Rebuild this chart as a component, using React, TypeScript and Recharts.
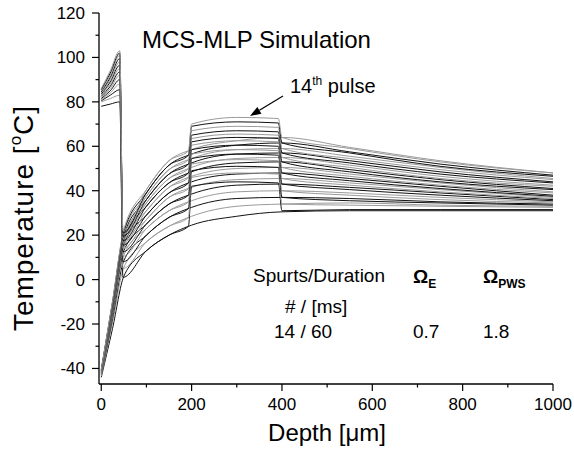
import React from 'react'
import { Line, LineChart, XAxis, YAxis } from 'recharts'

const FONT = '"Liberation Sans", Arial, Helvetica, sans-serif'

const X_TICKS = [0, 100, 200, 300, 400, 500, 600, 700, 800, 900, 1000]
const Y_TICKS = [-40, -30, -20, -10, 0, 10, 20, 30, 40, 50, 60, 70, 80, 90, 100, 110, 120]

// depth samples [um]
const LASER_DEPTH = [0, 20, 41, 48, 100, 150, 193, 200, 300, 392, 400, 550, 750, 1000]
const COOL_DEPTH = [0, 25, 50, 100, 150, 200, 300, 400, 550, 750, 1000]

// profiles right after each laser pulse
const pulse01 = [78, 79, 80, 1, 13, 20, 24, 42, 44, 43.5, 31, 31.5, 31.5, 31.5]
const pulse02 = [80, 81.5, 83, 5, 17, 24, 28, 46, 48, 47.5, 34, 33.5, 33, 32.5]
const pulse03 = [80.5, 83, 85.5, 8, 20, 28, 32, 49, 51, 50.5, 37, 35.5, 34.5, 33.5]
const pulse04 = [81, 84, 88, 10.5, 23, 31, 35, 52, 54, 53.5, 40, 38, 36, 34.5]
const pulse05 = [81.5, 85, 90, 12.5, 25, 34, 38, 54.5, 56.5, 56, 43, 40.5, 38, 35.5]
const pulse06 = [82, 86, 92, 14, 27, 37, 41, 56.5, 58.5, 58, 45.5, 42.5, 39.5, 36.5]
const pulse07 = [82.5, 87, 93.5, 15.5, 29, 39, 43.5, 58.5, 60.5, 60, 48, 44.5, 41, 37.5]
const pulse08 = [83, 88, 95, 16.5, 31, 41.5, 46, 60.5, 62.5, 62, 50.5, 46.5, 42.5, 39]
const pulse09 = [83.5, 89, 96.5, 17.5, 33, 43.5, 48, 62, 64, 63.5, 53, 48.5, 44, 40.5]
const pulse10 = [84, 90, 98, 18.5, 34.5, 45.5, 50, 63.5, 65.5, 65, 55, 50.5, 45.5, 42]
const pulse11 = [84.5, 91, 99.5, 19.5, 36, 47.5, 52, 65, 67, 66.5, 57, 52.5, 47.5, 43.5]
const pulse12 = [85, 92, 101, 20.5, 37.5, 49.5, 54, 67, 69, 68.5, 59, 54.5, 49.5, 45]
const pulse13 = [85.5, 93, 102, 21, 39, 51.5, 56, 69, 71, 70.5, 61.5, 57, 51, 46.5]
const pulse14 = [86, 94, 103, 22, 40.5, 53.5, 58, 70, 73, 72.5, 64, 59, 53, 48]

// profiles right after each cryogen spurt
const spurt01 = [-44, -22, 1.5, 13, 20, 24.5, 28.5, 30.5, 31, 31, 31]
const spurt02 = [-43.5, -19.5, 5.5, 17, 24, 28.5, 33, 34, 34.5, 33.5, 33]
const spurt03 = [-43, -17.5, 8.5, 20, 28, 32.5, 36.5, 37, 36.5, 35, 34]
const spurt04 = [-43, -16, 11, 23, 31, 35.5, 39.5, 40, 39, 37, 35]
const spurt05 = [-42.5, -15, 13, 25, 34, 38.5, 42.5, 43, 41.5, 39, 36]
const spurt06 = [-42.5, -14, 14.5, 27, 37, 41.5, 45, 45.5, 43.5, 40.5, 37]
const spurt07 = [-42, -13, 16, 29, 39, 44, 47.5, 48, 45.5, 42, 38]
const spurt08 = [-42, -12.5, 17, 31, 41.5, 46.5, 50, 50.5, 47.5, 43.5, 39.5]
const spurt09 = [-41.5, -12, 18, 33, 43.5, 48.5, 52.5, 53, 49.5, 45, 41]
const spurt10 = [-41.5, -11.5, 19, 34.5, 45.5, 50.5, 54.5, 55, 51.5, 46.5, 42.5]
const spurt11 = [-41, -11, 20, 36, 47.5, 52.5, 56.5, 57, 53.5, 48.5, 44]
const spurt12 = [-41, -10.5, 21, 37.5, 49.5, 54.5, 58.5, 59, 55.5, 50.5, 45.5]
const spurt13 = [-40.5, -10, 21.5, 39, 51.5, 56.5, 60.5, 61.5, 57.5, 52, 47]
const spurt14 = [-40.5, -9.5, 22.5, 40.5, 53.5, 58.5, 62.5, 64, 59.5, 53.5, 48]

const PULSES = [pulse01, pulse02, pulse03, pulse04, pulse05, pulse06, pulse07, pulse08, pulse09, pulse10, pulse11, pulse12, pulse13, pulse14]
const SPURTS = [spurt01, spurt02, spurt03, spurt04, spurt05, spurt06, spurt07, spurt08, spurt09, spurt10, spurt11, spurt12, spurt13, spurt14]

const toPoints = (depths: number[], temps: number[]) => depths.map((d, i) => ({ d, t: temps[i] }))

const BLACK = '#111'
const GREY = '#9a9a9a'

// tick marks drawn by hand so that major and minor ticks get different lengths
function BottomTick(props: any) {
  const { x, y, payload } = props
  const major = Math.round(payload.value) % 200 === 0
  const len = major ? 7 : 3.5
  return (
    <g>
      <rect x={x - 0.6} y={y} width={1.2} height={len} fill="#000" />
      {major ? (
        <text x={x} y={y + 26} textAnchor="middle" fontSize={17} fontFamily={FONT} fill="#000">
          {payload.value}
        </text>
      ) : null}
    </g>
  )
}

function TopTick(props: any) {
  const { x, y, payload } = props
  const major = Math.round(payload.value) % 200 === 0
  const len = major ? 7 : 3.5
  return (
    <g>
      <rect x={x - 0.6} y={y} width={1.2} height={len} fill="#000" />
    </g>
  )
}

function LeftTick(props: any) {
  const { x, y, payload } = props
  const major = Math.round(payload.value) % 20 === 0
  const len = major ? 7 : 3.5
  return (
    <g>
      <rect x={x - len} y={y - 0.6} width={len} height={1.2} fill="#000" />
      {major ? (
        <text x={x - 14} y={y + 6} textAnchor="end" fontSize={17} fontFamily={FONT} fill="#000">
          {payload.value}
        </text>
      ) : null}
    </g>
  )
}

function RightTick(props: any) {
  const { x, y, payload } = props
  const major = Math.round(payload.value) % 20 === 0
  const len = major ? 7 : 3.5
  return (
    <g>
      <rect x={x - len} y={y - 0.6} width={len} height={1.2} fill="#000" />
    </g>
  )
}

function Annotations() {
  // arrow for the 14th pulse label
  const x0 = 283, y0 = 96, x1 = 250, y1 = 116
  const len = Math.hypot(x1 - x0, y1 - y0)
  const ux = (x1 - x0) / len, uy = (y1 - y0) / len
  const bx = x1 - ux * 11, by = y1 - uy * 11
  const head = `${x1},${y1} ${bx + uy * 4},${by - ux * 4} ${bx - uy * 4},${by + ux * 4}`
  return (
    <svg width={574} height={455} style={{ position: 'absolute', left: 0, top: 0, pointerEvents: 'none' }} fontFamily={FONT} fill="#000">
      <text x={142} y={48} fontSize={24}>MCS-MLP Simulation</text>
      <text x={290} y={93} fontSize={20}>
        14<tspan fontSize={12} dy={-8}>th</tspan>
        <tspan dy={8}> pulse</tspan>
      </text>
      <line x1={x0} y1={y0} x2={bx} y2={by} stroke="#000" strokeWidth={1.2} />
      <polygon points={head} fill="#000" />

      <text x={253} y={282} fontSize={19}>Spurts/Duration</text>
      <text x={413} y={283} fontSize={19} fontWeight="bold">
        Ω<tspan fontSize={12} dy={5}>E</tspan>
      </text>
      <text x={483} y={283} fontSize={19} fontWeight="bold">
        Ω<tspan fontSize={12} dy={5}>PWS</tspan>
      </text>
      <text x={285} y={313} fontSize={19}># / [ms]</text>
      <text x={274} y={338} fontSize={19}>14 / 60</text>
      <text x={413} y={338} fontSize={19}>0.7</text>
      <text x={483} y={338} fontSize={19}>1.8</text>

      <text x={327} y={441} fontSize={24} textAnchor="middle">Depth [μm]</text>
      <text x={33} y={218} fontSize={28} letterSpacing={1} textAnchor="middle" transform="rotate(-90, 33, 218)">
        Temperature [<tspan fontSize={17} dy={-12}>o</tspan>
        <tspan dy={12}>C]</tspan>
      </text>
    </svg>
  )
}

export default function App() {
  const axisLine = { stroke: '#000', strokeWidth: 1.3 }
  return (
    <div style={{ position: 'absolute', left: 0, top: 0, width: 574, height: 455, background: '#fff' }}>
      <LineChart width={574} height={455} margin={{ top: 13, right: 21, bottom: 21, left: 39 }}>
        <XAxis
          xAxisId="main"
          dataKey="d"
          type="number"
          domain={[-5, 1000]}
          allowDataOverflow
          ticks={X_TICKS}
          interval={0}
          height={50}
          tickSize={0}
          tickMargin={0}
          tickLine={false}
          axisLine={axisLine}
          tick={<BottomTick />}
        />
        <XAxis
          xAxisId="top"
          orientation="top"
          type="number"
          domain={[-5, 1000]}
          allowDataOverflow
          ticks={X_TICKS}
          interval={0}
          height={0}
          tickSize={0}
          tickMargin={0}
          tickLine={false}
          axisLine={axisLine}
          tick={<TopTick />}
        />
        <YAxis
          yAxisId="main"
          type="number"
          domain={[-47, 120]}
          allowDataOverflow
          ticks={Y_TICKS}
          interval={0}
          width={60}
          tickSize={0}
          tickMargin={0}
          tickLine={false}
          axisLine={axisLine}
          tick={<LeftTick />}
        />
        <YAxis
          yAxisId="right"
          orientation="right"
          type="number"
          domain={[-47, 120]}
          allowDataOverflow
          ticks={Y_TICKS}
          interval={0}
          width={0}
          tickSize={0}
          tickMargin={0}
          tickLine={false}
          axisLine={axisLine}
          tick={<RightTick />}
        />
        {SPURTS.map((temps, i) => (
          <Line
            key={`spurt-${i}`}
            xAxisId="main"
            yAxisId="main"
            data={toPoints(COOL_DEPTH, temps)}
            dataKey="t"
            type="monotone"
            stroke={i % 2 === 0 ? BLACK : GREY}
            strokeWidth={1}
            dot={false}
            activeDot={false}
            isAnimationActive={false}
          />
        ))}
        {PULSES.map((temps, i) => (
          <Line
            key={`pulse-${i}`}
            xAxisId="main"
            yAxisId="main"
            data={toPoints(LASER_DEPTH, temps)}
            dataKey="t"
            type="monotone"
            stroke={i % 2 === 0 ? BLACK : GREY}
            strokeWidth={1}
            dot={false}
            activeDot={false}
            isAnimationActive={false}
          />
        ))}
      </LineChart>
      <Annotations />
    </div>
  )
}
